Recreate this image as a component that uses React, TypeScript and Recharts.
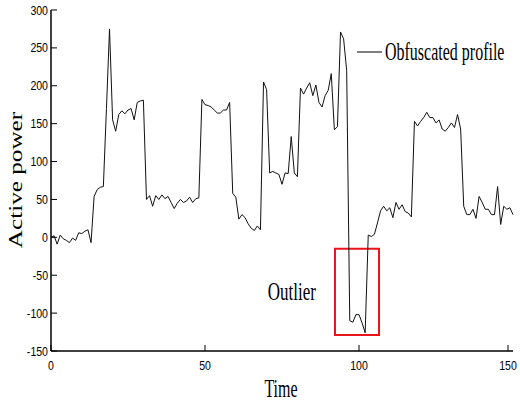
import * as React from 'react'
import {
  LineChart,
  Line,
  XAxis,
  YAxis,
  Legend,
  ReferenceArea,
  ReferenceDot
} from 'recharts'

// obfuscated active power profile, one sample per time step (0..150)
const power = [
  0, 2, -9, 3, -2, -4, -7, -1, -4, 6,
  5, 8, 10, -7, 54, 63, 66, 67, 170, 275,
  155, 140, 162, 167, 163, 168, 170, 155, 178, 180,
  181, 50, 55, 41, 55, 50, 56, 51, 54, 46,
  38, 45, 50, 46, 48, 53, 46, 51, 52, 182,
  175, 174, 172, 168, 164, 164, 168, 168, 178, 58,
  53, 24, 30, 26, 18, 12, 9, 15, 10, 205,
  195, 85, 87, 85, 83, 70, 85, 84, 133, 85,
  80, 197, 189, 197, 204, 187, 201, 178, 172, 187,
  194, 216, 142, 146, 271, 262, 220, -110, -112, -102,
  -102, -113, -126, 3, 1, 4, 19, 35, 41, 35,
  39, 26, 46, 37, 43, 34, 32, 27, 153, 147,
  153, 158, 165, 158, 158, 151, 155, 143, 140, 145,
  151, 145, 162, 143, 41, 30, 30, 37, 25, 54,
  46, 37, 37, 30, 30, 67, 17, 41, 37, 39,
  30
]

const xTicks = [0, 50, 100, 150]
const yTicks = [-150, -100, -50, 0, 50, 100, 150, 200, 250, 300]

// outlier window
const outlierX = [92.2, 106.5]
const outlierY = [-129, -15.2]
const outlierText = { t: 78.2, value: -71.5, label: 'Outlier' }

const data = power.map((p, i) => ({ t: i, power: p }))

const serif = '"Liberation Serif", "Times New Roman", serif'
const sans = '"Liberation Sans", Arial, sans-serif'

const LeftTick = (props: any) => {
  const { x, y, payload } = props
  return (
    <g>
      <line x1={x} x2={x + 6} y1={y} y2={y} stroke="#000" />
      <text
        transform={`translate(${x - 3},${y + 4.5}) scale(0.88,1)`}
        textAnchor="end"
        fontSize={12}
        fontFamily={sans}
        fill="#000"
      >
        {payload.value}
      </text>
    </g>
  )
}

const RightTick = (props: any) => {
  const { x, y } = props
  return <line x1={x} x2={x - 6} y1={y} y2={y} stroke="#000" />
}

const BottomTick = (props: any) => {
  const { x, y, payload } = props
  return (
    <g>
      <line x1={x} x2={x} y1={y} y2={y - 6} stroke="#000" />
      <text
        transform={`translate(${x},${y + 19}) scale(0.88,1)`}
        textAnchor="middle"
        fontSize={12}
        fontFamily={sans}
        fill="#000"
      >
        {payload.value}
      </text>
    </g>
  )
}

const TopTick = (props: any) => {
  const { x, y } = props
  return <line x1={x} x2={x} y1={y} y2={y + 6} stroke="#000" />
}

const yLabel = () => (
  <text
    transform="translate(22,180) rotate(-90) scale(1.4,1)"
    textAnchor="middle"
    fontSize={18}
    fontFamily={serif}
    fill="#000"
  >
    Active power
  </text>
)

const xLabel = () => (
  <text
    transform="translate(281,397) scale(1,1.55)"
    textAnchor="middle"
    fontSize={16}
    fontFamily={serif}
    fill="#000"
  >
    Time
  </text>
)

const outlierLabel = (props: any) => {
  const vb = props.viewBox || {}
  const cx = (vb.x || 0) + (vb.width || 0) / 2
  const cy = (vb.y || 0) + (vb.height || 0) / 2
  return (
    <text
      transform={`translate(${cx},${cy + 8.5}) scale(1,1.5)`}
      textAnchor="middle"
      fontSize={17}
      fontFamily={serif}
      fill="#000"
    >
      {outlierText.label}
    </text>
  )
}

const LegendContent = (props: any) => {
  const name = props.payload && props.payload[0] ? props.payload[0].value : ''
  return (
    <svg width={160} height={32} style={{ display: 'block', overflow: 'visible' }}>
      <line x1={0} x2={25} y1={14} y2={14} stroke="#000" />
      <text
        transform="translate(28,22) scale(1,1.55)"
        fontSize={16}
        fontFamily={serif}
        fill="#000"
      >
        {name}
      </text>
    </svg>
  )
}

export default function App(): React.ReactElement {
  return (
    <div style={{ position: 'absolute', left: 0, top: 0, background: '#fff' }}>
      <LineChart
        width={520}
        height={407}
        data={data}
        margin={{ top: 10, right: 7, bottom: 0, left: 0 }}
      >
        <XAxis
          xAxisId="bottom"
          dataKey="t"
          type="number"
          domain={[0, 150]}
          ticks={xTicks}
          height={56}
          tickSize={0}
          tickMargin={0}
          tickLine={false}
          tick={BottomTick}
          axisLine={{ stroke: '#000', strokeWidth: 1.5 }}
          label={xLabel}
        />
        <XAxis
          xAxisId="top"
          orientation="top"
          dataKey="t"
          type="number"
          domain={[0, 150]}
          ticks={xTicks}
          height={0}
          tickSize={0}
          tickMargin={0}
          tickLine={false}
          tick={TopTick}
          axisLine={{ stroke: '#000', strokeWidth: 1.2 }}
        />
        <YAxis
          yAxisId="left"
          type="number"
          domain={[-150, 300]}
          ticks={yTicks}
          width={51}
          tickSize={0}
          tickMargin={0}
          tickLine={false}
          tick={LeftTick}
          axisLine={{ stroke: '#000', strokeWidth: 1.5 }}
          label={yLabel}
        />
        <YAxis
          yAxisId="right"
          orientation="right"
          type="number"
          domain={[-150, 300]}
          ticks={yTicks}
          width={0}
          tickSize={0}
          tickMargin={0}
          tickLine={false}
          tick={RightTick}
          axisLine={{ stroke: '#000', strokeWidth: 1.2 }}
        />
        <Legend
          layout="vertical"
          align="center"
          verticalAlign="middle"
          content={LegendContent}
          wrapperStyle={{ position: 'absolute', left: 357, top: 38, width: 160, height: 32 }}
        />
        <ReferenceArea
          xAxisId="bottom"
          yAxisId="left"
          x1={outlierX[0]}
          x2={outlierX[1]}
          y1={outlierY[0]}
          y2={outlierY[1]}
          stroke="#e8141b"
          strokeWidth={2}
          fill="none"
          fillOpacity={0}
        />
        <ReferenceDot
          xAxisId="bottom"
          yAxisId="left"
          x={outlierText.t}
          y={outlierText.value}
          r={0}
          fill="none"
          stroke="none"
          label={outlierLabel}
        />
        <Line
          xAxisId="bottom"
          yAxisId="left"
          type="linear"
          dataKey="power"
          name="Obfuscated profile"
          stroke="#111"
          strokeWidth={1}
          dot={false}
          activeDot={false}
          isAnimationActive={false}
        />
      </LineChart>
    </div>
  )
}
